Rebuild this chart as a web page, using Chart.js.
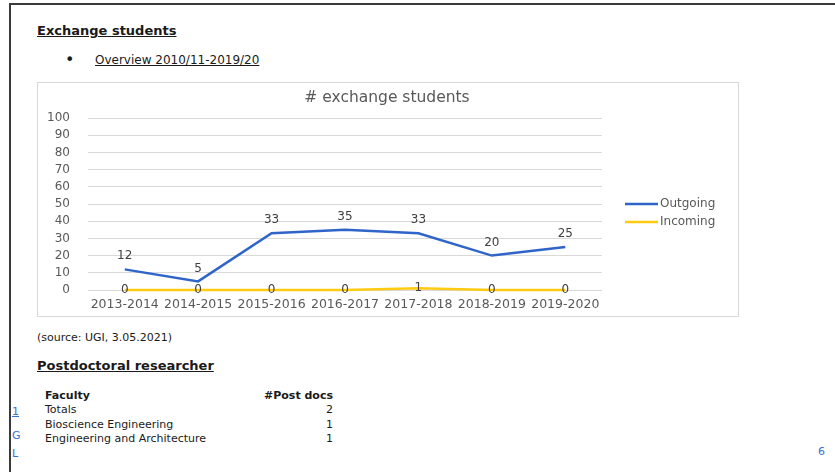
<!DOCTYPE html>
<html>
<head>
<meta charset="utf-8">
<script src="https://cdn.jsdelivr.net/npm/chart.js@4.4.1/dist/chart.umd.min.js"></script>
<style>
  body { margin: 0; width: 835px; height: 472px; background: #fff; position: relative; overflow: hidden;
         font-family: "DejaVu Sans", sans-serif; color: #1a1a1a; }
  .abs { position: absolute; white-space: nowrap; }
  .topline { left: 9px; top: 3px; width: 826px; height: 2px; background: #3a3a3a; }
  .leftline { left: 9px; top: 3px; width: 2px; height: 469px; background: #3a3a3a; }
  .h { font-weight: bold; font-size: 13px; text-decoration: underline; }
  .chartbox { left: 37px; top: 82px; width: 700px; height: 233px; border: 1px solid #d9d9d9; }
  .tbl { font-size: 11px; }
  .link { color: #3b6fd3; font-size: 11px; }
</style>
</head>
<body>
<div class="abs topline"></div>
<div class="abs leftline"></div>

<div class="abs h" style="left:37px; top:23px;">Exchange students</div>
<div class="abs" style="left:65px; top:50px; font-size:16px;">&#8226;</div>
<div class="abs" style="left:95px; top:53px; font-size:12px; text-decoration:underline;">Overview 2010/11-2019/20</div>

<div class="abs chartbox"><canvas id="chart" width="700" height="233"></canvas></div>

<div class="abs" style="left:37px; top:331px; font-size:11px;">(source: UGI, 3.05.2021)</div>
<div class="abs h" style="left:37px; top:358px;">Postdoctoral researcher</div>

<div class="abs tbl" style="left:45px; top:389px; font-weight:bold;">Faculty</div>
<div class="abs tbl" style="left:262px; top:389px; width:71px; text-align:right; font-weight:bold;">#Post docs</div>
<div class="abs tbl" style="left:45px; top:403px;">Totals</div>
<div class="abs tbl" style="left:262px; top:403px; width:71px; text-align:right;">2</div>
<div class="abs tbl" style="left:45px; top:418px;">Bioscience Engineering</div>
<div class="abs tbl" style="left:262px; top:418px; width:71px; text-align:right;">1</div>
<div class="abs tbl" style="left:45px; top:432px;">Engineering and Architecture</div>
<div class="abs tbl" style="left:262px; top:432px; width:71px; text-align:right;">1</div>

<div class="abs link" style="left:12px; top:405px; text-decoration:underline;">1</div>
<div class="abs link" style="left:12px; top:429px;">G</div>
<div class="abs link" style="left:12px; top:447px;">L</div>
<div class="abs link" style="left:818px; top:445px;">6</div>

<script>
const years = ['2013-2014', '2014-2015', '2015-2016', '2016-2017', '2017-2018', '2018-2019', '2019-2020'];
const outgoing = [12, 5, 33, 35, 33, 20, 25];
const incoming = [0, 0, 0, 0, 1, 0, 0];
const yTicks = [0, 10, 20, 30, 40, 50, 60, 70, 80, 90, 100];

const chartTitle = '# exchange students';
const labelFont = '12px "DejaVu Sans", sans-serif';

// title, legend and value labels are drawn here
const decorations = {
  id: 'decorations',
  afterDatasetsDraw(chart) {
    const ctx = chart.ctx;
    ctx.save();
    ctx.fillStyle = '#595959';
    ctx.font = '15.5px "DejaVu Sans", sans-serif';
    ctx.textAlign = 'center';
    ctx.textBaseline = 'middle';
    ctx.fillText(chartTitle, 349, 15);

    ctx.font = labelFont;
    chart.data.datasets.forEach((ds, i) => {
      const meta = chart.getDatasetMeta(i);
      meta.data.forEach((pt, j) => {
        const dy = ds.labelAbove ? -13 : 0;
        ctx.fillStyle = '#404040';
        ctx.fillText(String(ds.data[j]), pt.x, pt.y + dy);
      });

      // legend entry
      const ly = 121 + i * 18;
      ctx.strokeStyle = ds.borderColor;
      ctx.lineWidth = 2.5;
      ctx.beginPath();
      ctx.moveTo(587, ly);
      ctx.lineTo(620, ly);
      ctx.stroke();
      ctx.fillStyle = '#595959';
      ctx.textAlign = 'left';
      ctx.fillText(ds.label, 622, ly);
      ctx.textAlign = 'center';
    });
    ctx.restore();
  }
};

new Chart(document.getElementById('chart'), {
  type: 'line',
  data: {
    labels: years,
    datasets: [{
      label: 'Outgoing',
      data: outgoing,
      borderColor: '#2F64C9',
      borderWidth: 2.5,
      pointRadius: 0,
      tension: 0,
      clip: false,
      labelAbove: true
    }, {
      label: 'Incoming',
      data: incoming,
      borderColor: '#FFCB12',
      borderWidth: 2.5,
      pointRadius: 0,
      tension: 0,
      clip: false,
      labelAbove: false
    }]
  },
  options: {
    responsive: false,
    animation: false,
    layout: {
      padding: { top: 35, right: 136, left: 0, bottom: 0 }
    },
    plugins: {
      legend: { display: false },
      title: { display: false },
      tooltip: { enabled: false }
    },
    scales: {
      x: {
        offset: true,
        grid: { display: false, drawTicks: false },
        border: { display: false },
        ticks: {
          color: '#595959',
          font: { family: '"DejaVu Sans", sans-serif', size: 12.5 },
          padding: 7,
          maxRotation: 0,
          autoSkip: false
        },
        afterFit: s => { s.height = 26; }
      },
      y: {
        min: 0,
        max: 100,
        afterBuildTicks: s => { s.ticks = yTicks.map(v => ({ value: v })); },
        grid: { color: '#d9d9d9', lineWidth: 1, drawTicks: false },
        border: { display: false },
        ticks: {
          color: '#595959',
          font: { family: '"DejaVu Sans", sans-serif', size: 12 },
          padding: 18,
          autoSkip: false
        },
        afterFit: s => { s.width = 50; }
      }
    }
  },
  plugins: [decorations]
});
</script>
</body>
</html>
